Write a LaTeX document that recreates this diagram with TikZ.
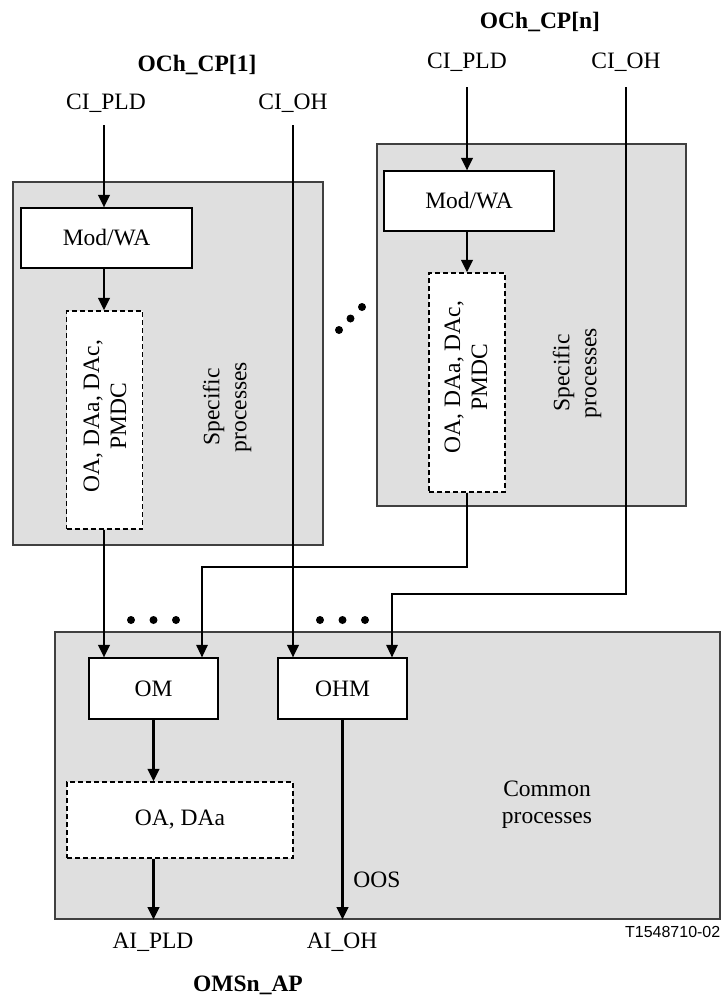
\documentclass[tikz,border=0pt]{standalone}
\usepackage{fontspec}
\setmainfont{Liberation Serif}
\newfontfamily\arialf{Liberation Sans}
\usetikzlibrary{arrows.meta}
\definecolor{gray9}{RGB}{223,223,223}
\begin{document}
\begin{tikzpicture}[x=1pt,y=-1pt,
  every node/.style={font=\fontsize{23.5}{27}\selectfont, align=center, inner sep=0pt},
  graybox/.style={draw=black!75, line width=1.3pt, fill=gray9},
  whitebox/.style={draw=black, line width=1.2pt, fill=white},
  dashbox/.style={draw=black, line width=1.3pt, fill=white, dash pattern=on 5pt off 3pt},
  thickln/.style={line width=2.2pt},
  thinln/.style={line width=1.2pt},
  arr/.style={-{Triangle[length=12.5pt,width=11.5pt]}},
  titletext/.style={font=\fontsize{23.5}{27}\selectfont\bfseries},
  dotmark/.style={circle, fill=black, minimum size=8pt, inner sep=0pt}
]
\useasboundingbox (0,0) rectangle (721,997);

% gray process areas
\node[graybox, minimum width=310pt, minimum height=363pt] (sp1) at (168,363.5) {};
\node[graybox, minimum width=309pt, minimum height=362pt] (spn) at (531.5,325) {};
\node[graybox, minimum width=665pt, minimum height=287pt] (cp) at (387.5,775.5) {};

% boxes
\node[whitebox, minimum width=171pt, minimum height=60pt] (mod1) at (106.5,238) {Mod/WA};
\node[whitebox, minimum width=170pt, minimum height=60pt] (modn) at (469,201) {Mod/WA};
\node[dashbox, minimum width=76pt, minimum height=218pt] (da1) at (104.5,420) {};
\node[rotate=90] (da1t) at (105,416) {OA, DAa, DAc,\\PMDC};
\node[dashbox, minimum width=76pt, minimum height=219pt] (dan) at (467,382.5) {};
\node[rotate=90] (dant) at (466,377) {OA, DAa, DAc,\\PMDC};
\node[whitebox, minimum width=129pt, minimum height=61pt] (om) at (153.5,688.5) {OM};
\node[whitebox, minimum width=129pt, minimum height=61pt] (ohm) at (342.5,688.5) {OHM};
\node[dashbox, minimum width=226pt, minimum height=76pt] (oad) at (180,820) {OA, DAa};

% area labels
\node[rotate=90] (spt1) at (227,407) {Specific\\processes};
\node[rotate=90] (sptn) at (577,373) {Specific\\processes};
\node (cpt) at (547,805) {Common\\processes};

% titles and signal labels
\node[titletext] (t1) at (197,65) {OCh\_CP[1]};
\node[titletext] (tn) at (540,22) {OCh\_CP[n]};
\node (cipld1) at (106,103) {CI\_PLD};
\node (cioh1) at (293,103) {CI\_OH};
\node (cipldn) at (467,62) {CI\_PLD};
\node (ciohn) at (626,62) {CI\_OH};
\node (aipld) at (153,942) {AI\_PLD};
\node (aioh) at (342,942) {AI\_OH};
\node[titletext] (tap) at (248,985) {OMSn\_AP};
\node (oos) at (377,880) {OOS};
\node[anchor=east, font=\arialf\fontsize{16}{18}\selectfont] (fig) at (720.5,932) {T1548710-02};

% dots
\node[dotmark] (d1) at (339,330) {};
\node[dotmark] (d2) at (350.5,318.5) {};
\node[dotmark] (d3) at (362,307) {};
\node[dotmark] (e1) at (131,620) {};
\node[dotmark] (e2) at (153.5,620) {};
\node[dotmark] (e3) at (176,620) {};
\node[dotmark] (f1) at (320,620) {};
\node[dotmark] (f2) at (342.5,620) {};
\node[dotmark] (f3) at (365,620) {};

% connectors
\coordinate (s1) at (104,125);
\draw[thickln,arr] (s1) -- (s1 |- mod1.north);
\draw[thickln,arr] (mod1.south -| s1) -- (s1 |- da1.north);
\draw[thickln,arr] (da1.south -| s1) -- (s1 |- om.north);

\coordinate (o1) at (293,125);
\draw[thickln,arr] (o1) -- (o1 |- ohm.north);

\coordinate (sn) at (467,87);
\draw[thickln,arr] (sn) -- (sn |- modn.north);
\draw[thickln,arr] (modn.south -| sn) -- (sn |- dan.north);
\coordinate (jn) at (202,567);
\draw[thinln,arr] (dan.south -| sn) |- (jn) -- (jn |- om.north);

\coordinate (on) at (626,87);
\coordinate (kn) at (392,594);
\draw[thinln,arr] (on) |- (kn) -- (kn |- ohm.north);

\draw[thickln,arr] (om.south) -- (om.south |- oad.north);
\draw[thickln,arr] (om.south |- oad.south) -- (om.south |- cp.south);
\draw[thickln,arr] (ohm.south) -- (ohm.south |- cp.south);
\end{tikzpicture}
\end{document}
